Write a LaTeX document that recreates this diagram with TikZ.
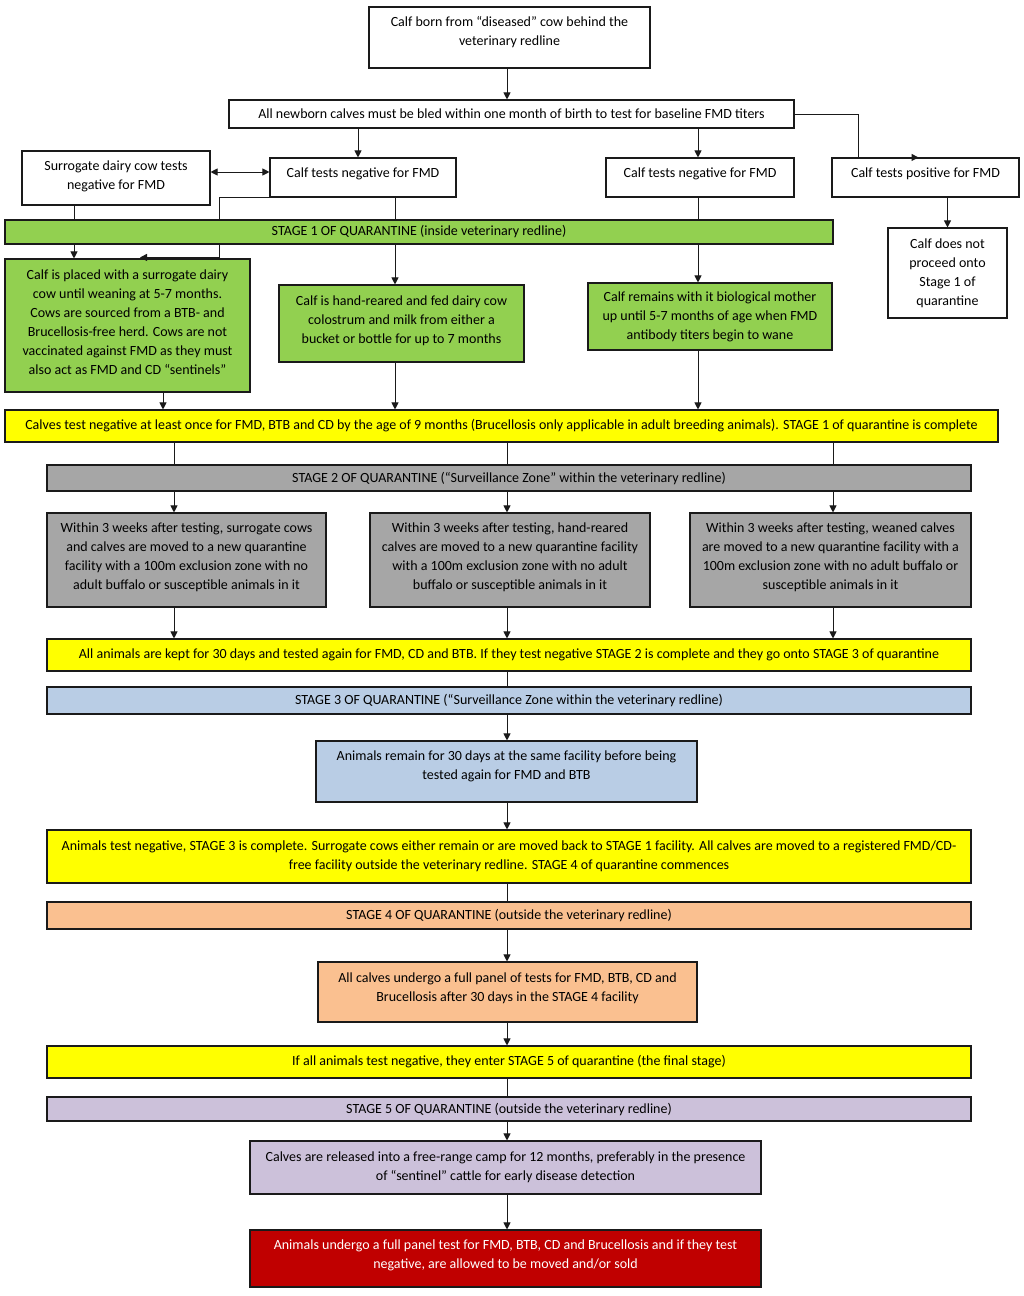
\documentclass[tikz,border=0pt]{standalone}
\usepackage{fontspec}
\setmainfont{Carlito}
\usetikzlibrary{arrows.meta}
\definecolor{cgreen}{HTML}{92D050}
\definecolor{cyellow}{HTML}{FFFF00}
\definecolor{cgray}{HTML}{A6A6A6}
\definecolor{cblue}{HTML}{B9CDE5}
\definecolor{cpeach}{HTML}{FAC090}
\definecolor{clav}{HTML}{CCC1DA}
\definecolor{cred}{HTML}{C00000}
\definecolor{cline}{HTML}{1A1A1A}
\begin{document}
\begin{tikzpicture}[x=1pt,y=-1pt,
  bx/.style={draw=cline, line width=1.1pt, inner sep=0pt, align=center,
    font=\fontsize{14}{19}\selectfont, text=black},
  up/.style={text depth=#1pt},
  sz/.style 2 args={minimum width=#1pt, minimum height=#2pt},
  arr/.style={draw=cline, line width=1pt, -{Triangle[length=7pt,width=7pt]}},
  ln/.style={draw=cline, line width=1pt}]
\useasboundingbox[fill=white] (0,0) rectangle (1024,1296);

% top part
\node[bx, sz={281}{61}, up=13] (born) at (509.5,37.5) {Calf born from “diseased” cow behind the\\veterinary redline};
\node[bx, sz={565}{28}] (b2) at (511.5,114) {All newborn calves must be bled within one month of birth to test for baseline FMD titers};
\node[bx, sz={188}{54}, up=6] (sur) at (116,178) {Surrogate dairy cow tests\\negative for FMD};
\node[bx, sz={186}{39}, up=10] (calfL) at (363,177.5) {Calf tests negative for FMD};
\node[bx, sz={188}{39}, up=10] (calfM) at (700,177.5) {Calf tests negative for FMD};
\node[bx, sz={187}{39}, up=10] (calfP) at (925.5,177.5) {Calf tests positive for FMD};
\node[bx, sz={119}{90}] (notp) at (947.5,273) {Calf does not\\proceed onto\\Stage 1 of\\quarantine};

% stage 1
\node[bx, fill=cgreen, sz={828}{24}] (s1) at (419,232) {STAGE 1 OF QUARANTINE (inside veterinary redline)};
\node[bx, fill=cgreen, sz={245}{133}, up=7] (g1) at (127.5,325.5) {Calf is placed with a surrogate dairy\\cow until weaning at 5-7 months.\\Cows are sourced from a BTB- and\\Brucellosis-free herd. Cows are not\\vaccinated against FMD as they must\\also act as FMD and CD “sentinels”};
\node[bx, fill=cgreen, sz={245}{77}, up=7] (g2) at (401.5,323.5) {Calf is hand-reared and fed dairy cow\\colostrum and milk from either a\\bucket or bottle for up to 7 months};
\node[bx, fill=cgreen, sz={244}{67}] (g3) at (710,316.5) {Calf remains with it biological mother\\up until 5-7 months of age when FMD\\antibody titers begin to wane};
\node[bx, fill=cyellow, sz={993}{32}] (y1) at (501.5,426) {Calves test negative at least once for FMD, BTB and CD by the age of 9 months (Brucellosis only applicable in adult breeding animals). STAGE 1 of quarantine is complete};

% stage 2
\node[bx, fill=cgray, sz={924}{26}] (s2) at (509,478) {STAGE 2 OF QUARANTINE (“Surveillance Zone” within the veterinary redline)};
\node[bx, fill=cgray, sz={279}{94}, up=7] (gr1) at (186.5,560) {Within 3 weeks after testing, surrogate cows\\and calves are moved to a new quarantine\\facility with a 100m exclusion zone with no\\adult buffalo or susceptible animals in it};
\node[bx, fill=cgray, sz={280}{94}, up=7] (gr2) at (510,560) {Within 3 weeks after testing, hand-reared\\calves are moved to a new quarantine facility\\with a 100m exclusion zone with no adult\\buffalo or susceptible animals in it};
\node[bx, fill=cgray, sz={281}{94}, up=7] (gr3) at (830.5,560) {Within 3 weeks after testing, weaned calves\\are moved to a new quarantine facility with a\\100m exclusion zone with no adult buffalo or\\susceptible animals in it};
\node[bx, fill=cyellow, sz={924}{32}] (y2) at (509,655) {All animals are kept for 30 days and tested again for FMD, CD and BTB. If they test negative STAGE 2 is complete and they go onto STAGE 3 of quarantine};

% stage 3
\node[bx, fill=cblue, sz={924}{27}] (s3) at (509,700.5) {STAGE 3 OF QUARANTINE (“Surveillance Zone within the veterinary redline)};
\node[bx, fill=cblue, sz={381}{61}, up=12] (bl) at (506.5,771.5) {Animals remain for 30 days at the same facility before being\\tested again for FMD and BTB};
\node[bx, fill=cyellow, sz={924}{53}] (y3) at (509,856.5) {Animals test negative, STAGE 3 is complete. Surrogate cows either remain or are moved back to STAGE 1 facility. All calves are moved to a registered FMD/CD-\\free facility outside the veterinary redline. STAGE 4 of quarantine commences};

% stage 4
\node[bx, fill=cpeach, sz={924}{27}] (s4) at (509,915.5) {STAGE 4 OF QUARANTINE (outside the veterinary redline)};
\node[bx, fill=cpeach, sz={379}{60}, up=10] (pe) at (507.5,992) {All calves undergo a full panel of tests for FMD, BTB, CD and\\Brucellosis after 30 days in the STAGE 4 facility};
\node[bx, fill=cyellow, sz={924}{32}] (y4) at (509,1062) {If all animals test negative, they enter STAGE 5 of quarantine (the final stage)};

% stage 5
\node[bx, fill=clav, sz={924}{24}] (s5) at (509,1109) {STAGE 5 OF QUARANTINE (outside the veterinary redline)};
\node[bx, fill=clav, sz={511}{53}] (lv) at (505.5,1167.5) {Calves are released into a free-range camp for 12 months, preferably in the presence\\of “sentinel” cattle for early disease detection};
\node[bx, fill=cred, text=white, sz={511}{57}, up=8] (rd) at (505.5,1258.5) {Animals undergo a full panel test for FMD, BTB, CD and Brucellosis and if they test\\negative, are allowed to be moved and/or sold};

% lane coordinates
\coordinate (l1) at (74,0);
\coordinate (l2) at (219,0);
\coordinate (l3) at (395,0);
\coordinate (l4) at (698,0);
\coordinate (l5) at (163,0);
\coordinate (la) at (174,0);
\coordinate (lb) at (507,0);
\coordinate (lc) at (833,0);
\coordinate (lk) at (858,0);

% connectors top
\draw[arr] (born.south -| lb) -- (lb |- b2.north);
\draw[arr] ([xshift=-5pt]calfL.north |- b2.south) -- ([xshift=-5pt]calfL.north);
\draw[arr] (l4 |- b2.south) -- (l4 |- calfM.north);
\draw[arr] (b2.east) -| (lk |- calfP.north) -- ([xshift=-7pt]calfP.north);
\draw[arr, {Triangle[length=7pt,width=7pt]}-{Triangle[length=7pt,width=7pt]}] ([yshift=6pt]sur.east) -- ([yshift=6pt]sur.east -| calfL.west);
\draw[arr] (notp.north |- calfP.south) -- (notp.north);

% into stage 1
\draw[ln] (l1 |- sur.south) -- (l1 |- s1.north);
\draw[ln] (calfL.south west) -- (l2 |- calfL.south) -- (l2 |- s1.north);
\draw[ln] (l3 |- calfL.south) -- (l3 |- s1.north);
\draw[ln] (l4 |- calfM.south) -- (l4 |- s1.north);
% out of stage 1
\draw[arr] (l1 |- s1.south) -- (l1 |- g1.north);
\draw[arr] (l2 |- s1.south) |- ([xshift=12.5pt,yshift=1pt]g1.north);
\draw[arr] (l3 |- s1.south) -- (l3 |- g2.north);
\draw[arr] (l4 |- s1.south) -- (l4 |- g3.north);
\draw[arr] (l5 |- g1.south) -- (l5 |- y1.north);
\draw[arr] (l3 |- g2.south) -- (l3 |- y1.north);
\draw[arr] (l4 |- g3.south) -- (l4 |- y1.north);

% stage 2
\draw[ln] (la |- y1.south) -- (la |- s2.north);
\draw[ln] (lb |- y1.south) -- (lb |- s2.north);
\draw[ln] (lc |- y1.south) -- (lc |- s2.north);
\draw[arr] (la |- s2.south) -- (la |- gr1.north);
\draw[arr] (lb |- s2.south) -- (lb |- gr2.north);
\draw[arr] (lc |- s2.south) -- (lc |- gr3.north);
\draw[arr] (la |- gr1.south) -- (la |- y2.north);
\draw[arr] (lb |- gr2.south) -- (lb |- y2.north);
\draw[arr] (lc |- gr3.south) -- (lc |- y2.north);

% stage 3-5
\draw[ln] (lb |- y2.south) -- (lb |- s3.north);
\draw[arr] (lb |- s3.south) -- (lb |- bl.north);
\draw[arr] (lb |- bl.south) -- (lb |- y3.north);
\draw[ln] (lb |- y3.south) -- (lb |- s4.north);
\draw[arr] (lb |- s4.south) -- (lb |- pe.north);
\draw[arr] (lb |- pe.south) -- (lb |- y4.north);
\draw[ln] (lb |- y4.south) -- (lb |- s5.north);
\draw[arr] (lb |- s5.south) -- (lb |- lv.north);
\draw[arr] (lb |- lv.south) -- (lb |- rd.north);
\end{tikzpicture}
\end{document}
